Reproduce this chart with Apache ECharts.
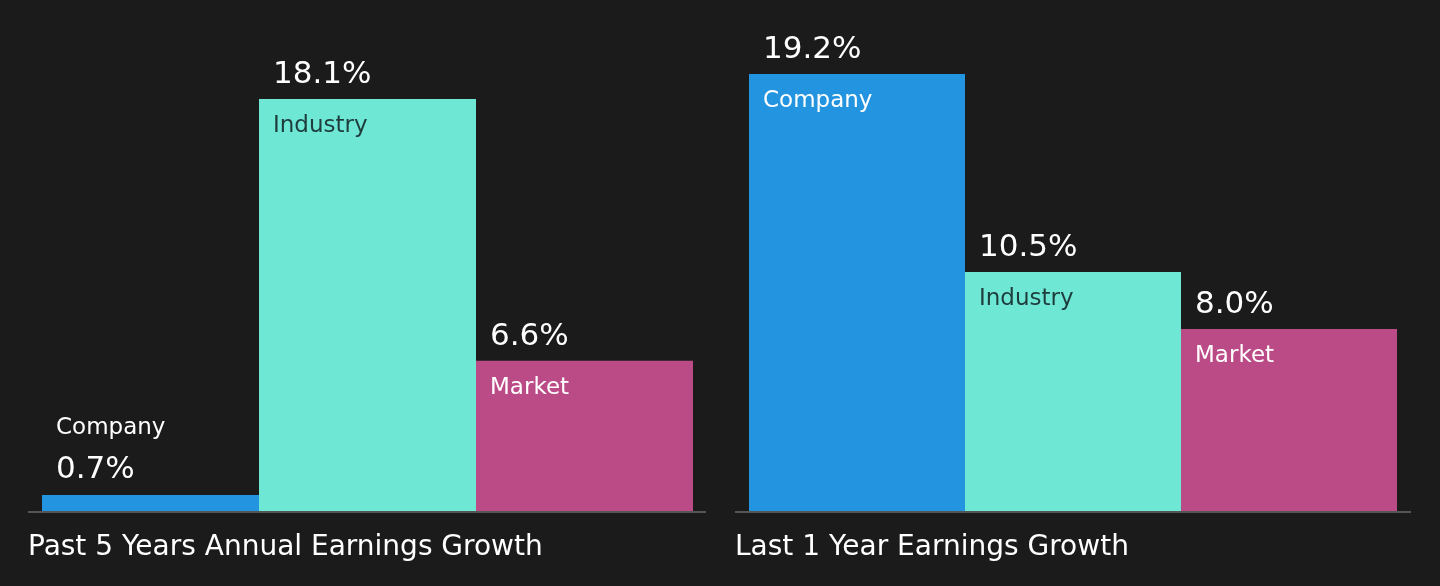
<!DOCTYPE html>
<html>
<head>
<meta charset="utf-8">
<script src="https://cdn.jsdelivr.net/npm/echarts@6/dist/echarts.min.js"></script>
<style>
  html, body { margin: 0; padding: 0; background: #1b1b1b; }
  #chart { width: 1440px; height: 586px; }
</style>
</head>
<body>
<div id="chart"></div>
<script>
var categories = ['Company', 'Industry', 'Market'];
var past5Years = [0.7, 18.1, 6.6];
var last1Year = [19.2, 10.5, 8.0];
var panelTitles = ['Past 5 Years Annual Earnings Growth', 'Last 1 Year Earnings Growth'];

var barColors = ['#2394df', '#6ee7d5', '#bb4b86'];
var nameColors = ['#ffffff', '#1e3c3c', '#ffffff'];
var font = 'DejaVu Sans';

function buildData(values) {
  return values.map(function (v, i) {
    var small = v < 3;
    return {
      value: v,
      itemStyle: { color: barColors[i] },
      label: small ? {
        show: true,
        position: [14, -84],
        formatter: '{n|' + categories[i] + '}\n{v|' + v.toFixed(1) + '%}',
        rich: {
          n: { fontFamily: font, fontSize: 23, color: '#ffffff', lineHeight: 34 },
          v: { fontFamily: font, fontSize: 31, color: '#ffffff', lineHeight: 50 }
        }
      } : {
        show: true,
        position: [14, -49],
        formatter: '{v|' + v.toFixed(1) + '%}\n{n|' + categories[i] + '}',
        rich: {
          v: { fontFamily: font, fontSize: 31, color: '#ffffff', lineHeight: 50 },
          n: { fontFamily: font, fontSize: 23, color: nameColors[i], lineHeight: 52 }
        }
      }
    };
  });
}

var grids = [
  { left: 42, width: 651, top: 74, bottom: 75 },
  { left: 749, width: 648, top: 74, bottom: 75 }
];

var option = {
  backgroundColor: '#1b1b1b',
  animation: false,
  grid: grids,
  xAxis: [0, 1].map(function (g) {
    return {
      type: 'category',
      gridIndex: g,
      data: categories,
      axisLine: { show: true, lineStyle: { color: '#e8e8e8', width: 1 } },
      axisTick: { show: false },
      axisLabel: { show: false },
      splitLine: { show: false }
    };
  }),
  yAxis: [0, 1].map(function (g) {
    return {
      type: 'value',
      gridIndex: g,
      min: 0,
      max: 19.2,
      show: false
    };
  }),
  graphic: [
    { type: 'rect', shape: { x: 28, y: 511, width: 678, height: 2 }, style: { fill: '#555555' }, z: 1 },
    { type: 'rect', shape: { x: 735, y: 511, width: 676, height: 2 }, style: { fill: '#555555' }, z: 1 },
    { type: 'text', left: 28, top: 534, style: { text: panelTitles[0], fill: '#ffffff', font: '28px "DejaVu Sans"' } },
    { type: 'text', left: 735, top: 534, style: { text: panelTitles[1], fill: '#ffffff', font: '28px "DejaVu Sans"' } }
  ],
  series: [
    {
      type: 'bar',
      xAxisIndex: 0,
      yAxisIndex: 0,
      barCategoryGap: '0%',
      data: buildData(past5Years),
      z: 3
    },
    {
      type: 'bar',
      xAxisIndex: 1,
      yAxisIndex: 1,
      barCategoryGap: '0%',
      data: buildData(last1Year),
      z: 3
    }
  ]
};

echarts.init(document.getElementById('chart')).setOption(option);
</script>
</body>
</html>
